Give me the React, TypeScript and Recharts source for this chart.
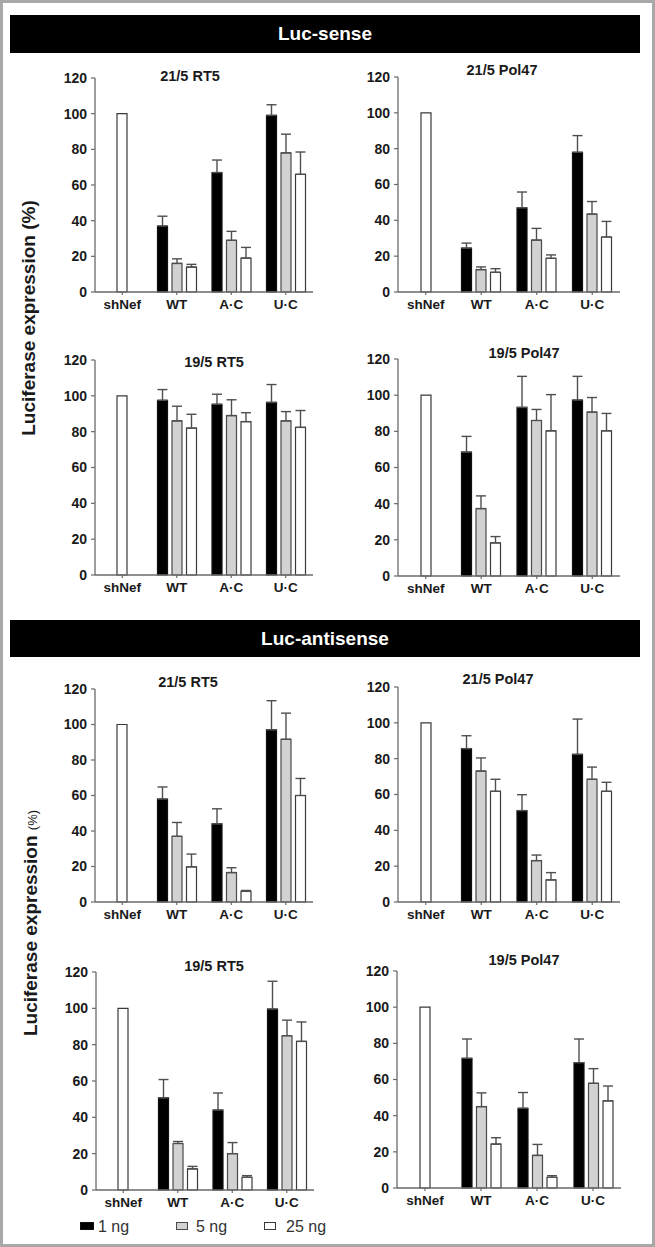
import React from "react";
import { BarChart, Bar, XAxis, YAxis, ErrorBar } from "recharts";

const categories = ["shNef", "WT", "A·C", "U·C"];
const doses = ["1 ng", "5 ng", "25 ng"];
const doseColors = ["#000000", "#d2d2d2", "#ffffff"];
const doseStrokes = ["#111111", "#4a4a4a", "#3a3a3a"];
const yTicks = [0, 20, 40, 60, 80, 100, 120];
const shNefValue = 100;

// rows: WT, A·C, U·C  -  columns: 1 ng, 5 ng, 25 ng
const sense21RT5 = [[37, 16, 14], [67, 29, 19], [99, 78, 66]];
const sense21RT5Err = [[5.5, 2.6, 1.5], [7, 5, 6], [6, 10.5, 12.5]];
const sense21Pol47 = [[24.5, 12.5, 11], [47, 29, 18.8], [78, 43.5, 30.7]];
const sense21Pol47Err = [[2.8, 1.5, 2], [8.8, 6.5, 1.9], [9.3, 7, 8.7]];
const sense19RT5 = [[97.5, 86, 82], [95.3, 89, 85.6], [96.3, 86, 82.4]];
const sense19RT5Err = [[6, 8.2, 7.7], [5.6, 8.8, 5], [10, 5.2, 9.4]];
const sense19Pol47 = [[68.5, 37.3, 18.3], [93.2, 86, 80.3], [97.3, 90.6, 80.3]];
const sense19Pol47Err = [[8.7, 7, 3.5], [17.2, 6.1, 20], [13.1, 8.1, 9.6]];

const anti21RT5 = [[58, 37, 19.8], [44, 16.6, 6], [97, 91.7, 60]];
const anti21RT5Err = [[6.8, 7.8, 7.2], [8.5, 2.7, 0.5], [16.4, 14.7, 9.6]];
const anti21Pol47 = [[85.6, 73.1, 61.8], [51, 23.1, 12.3], [82.4, 68.5, 61.8]];
const anti21Pol47Err = [[7.2, 7.3, 6.7], [8.9, 3.1, 4.1], [19.7, 6.8, 5]];
const anti19RT5 = [[50.7, 25.6, 11.6], [44, 20, 7], [99.6, 84.9, 81.8]];
const anti19RT5Err = [[10.1, 1.1, 1.4], [9.4, 6.1, 0.9], [15.3, 8.6, 10.7]];
const anti19Pol47 = [[71.7, 45, 24.3], [44.1, 18, 5.9], [69.3, 57.9, 48.2]];
const anti19Pol47Err = [[10.7, 7.6, 3.5], [8.7, 6.1, 0.9], [13.1, 8.1, 8.2]];

const FONT = "'Liberation Sans', Arial, Helvetica, sans-serif";

function buildRows(values: number[][], errs: number[][]) {
  return categories.map((cat, i) => {
    if (i === 0) return { cat, ctrl: shNefValue };
    const v = values[i - 1];
    const e = errs[i - 1];
    return {
      cat,
      d0: v[0], d1: v[1], d2: v[2],
      e0: [0, e[0]], e1: [0, e[1]], e2: [0, e[2]],
    };
  });
}

const panels = [
  { title: "21/5 RT5", values: sense21RT5, errs: sense21RT5Err, axisX: 95, topY: 78, plotW: 218, plotH: 214, tx: 190, ty: 76 },
  { title: "21/5 Pol47", values: sense21Pol47, errs: sense21Pol47Err, axisX: 398, topY: 77, plotW: 222, plotH: 215, tx: 502, ty: 70 },
  { title: "19/5 RT5", values: sense19RT5, errs: sense19RT5Err, axisX: 95, topY: 360, plotW: 218, plotH: 215, tx: 214, ty: 362 },
  { title: "19/5 Pol47", values: sense19Pol47, errs: sense19Pol47Err, axisX: 398, topY: 359, plotW: 222, plotH: 217, tx: 524, ty: 353 },
  { title: "21/5 RT5", values: anti21RT5, errs: anti21RT5Err, axisX: 95, topY: 689, plotW: 218, plotH: 213, tx: 188, ty: 682 },
  { title: "21/5 Pol47", values: anti21Pol47, errs: anti21Pol47Err, axisX: 398, topY: 687, plotW: 222, plotH: 215, tx: 498, ty: 679 },
  { title: "19/5 RT5", values: anti19RT5, errs: anti19RT5Err, axisX: 96, topY: 972, plotW: 218, plotH: 218, tx: 214, ty: 966 },
  { title: "19/5 Pol47", values: anti19Pol47, errs: anti19Pol47Err, axisX: 397, topY: 971, plotW: 224, plotH: 217, tx: 524, ty: 960 },
];

const axisColor = "#6a6a6a";
const yTickFont = { fontSize: 14, fontWeight: "bold", fill: "#1a1a1a", fontFamily: FONT };
const xTickFont = { fontSize: 13.5, fontWeight: "bold", fill: "#1a1a1a", fontFamily: FONT };

function Panel(p: any) {
  const rows = buildRows(p.values, p.errs);
  const yW = 45;
  const mTop = 15;
  return (
    <>
      <div
        style={{
          position: "absolute",
          left: p.tx - 70,
          width: 140,
          top: p.ty - 9,
          height: 18,
          lineHeight: "18px",
          textAlign: "center",
          fontFamily: FONT,
          fontWeight: "bold",
          fontSize: 14.5,
          color: "#1a1a1a",
        }}
      >
        {p.title}
      </div>
      <div style={{ position: "absolute", left: p.axisX - yW, top: p.topY - mTop }}>
        <BarChart
          width={yW + p.plotW + 6}
          height={mTop + p.plotH + 30}
          data={rows}
          margin={{ top: mTop, right: 6, left: 0, bottom: 0 }}
          barSize={10}
          barGap={4.5}
        >
          <XAxis
            dataKey="cat"
            height={30}
            interval={0}
            tick={xTickFont}
            tickSize={3}
            tickMargin={4}
            axisLine={{ stroke: axisColor, strokeWidth: 1.3 }}
            tickLine={{ stroke: axisColor, strokeWidth: 1.2 }}
          />
          <XAxis xAxisId="ctrl" dataKey="cat" hide />
          <YAxis
            width={yW}
            domain={[0, 120]}
            ticks={yTicks}
            interval={0}
            tick={yTickFont}
            tickSize={4}
            tickMargin={4}
            axisLine={{ stroke: axisColor, strokeWidth: 1.3 }}
            tickLine={{ stroke: axisColor, strokeWidth: 1.2 }}
          />
          <Bar
            xAxisId="ctrl"
            dataKey="ctrl"
            fill="#ffffff"
            stroke="#3a3a3a"
            strokeWidth={1.2}
            isAnimationActive={false}
          />
          {doses.map((d, i) => (
            <Bar
              key={d}
              name={d}
              dataKey={"d" + i}
              fill={doseColors[i]}
              stroke={doseStrokes[i]}
              strokeWidth={1.2}
              isAnimationActive={false}
            >
              <ErrorBar
                dataKey={"e" + i}
                width={5}
                stroke="#4f4f4f"
                strokeWidth={1.4}
                direction="y"
                isAnimationActive={false}
              />
            </Bar>
          ))}
        </BarChart>
      </div>
    </>
  );
}

function Header({ top, height, text }: { top: number; height: number; text: string }) {
  return (
    <div
      style={{
        position: "absolute",
        left: 10,
        top,
        width: 630,
        height,
        lineHeight: height + "px",
        background: "#000",
        color: "#fff",
        textAlign: "center",
        fontFamily: FONT,
        fontWeight: "bold",
        fontSize: 19,
      }}
    >
      {text}
    </div>
  );
}

function YLabel({ cx, cy, small }: { cx: number; cy: number; small?: boolean }) {
  return (
    <div
      style={{
        position: "absolute",
        left: cx - 150,
        top: cy - 12,
        width: 300,
        height: 24,
        lineHeight: "24px",
        textAlign: "center",
        transform: "rotate(-90deg)",
        fontFamily: FONT,
        fontWeight: "bold",
        fontSize: 19,
        color: "#1a1a1a",
        whiteSpace: "nowrap",
      }}
    >
      {small ? (
        <>
          Luciferase expression <span style={{ fontSize: 13, fontWeight: "normal" }}>(%)</span>
        </>
      ) : (
        "Luciferase expression (%)"
      )}
    </div>
  );
}

const legendRects = [80, 176, 264];
const legendTexts = [98, 196, 286];

export default function App() {
  return (
    <div
      style={{
        position: "absolute",
        left: 0,
        top: 0,
        width: 655,
        height: 1247,
        background: "#fff",
        boxSizing: "border-box",
        border: "3px solid #a8a8a8",
        overflow: "hidden",
      }}
    >
      <div style={{ position: "absolute", left: -3, top: -3, width: 655, height: 1247 }}>
        <Header top={15} height={38} text="Luc-sense" />
        <Header top={620} height={37} text="Luc-antisense" />
        <YLabel cx={29} cy={318} />
        <YLabel cx={31} cy={923} small />
        {panels.map((p, i) => (
          <Panel key={i} {...p} />
        ))}
        {doses.map((d, i) => (
          <React.Fragment key={d}>
            <div
              style={{
                position: "absolute",
                left: legendRects[i],
                top: 1222,
                width: i === 0 ? 14 : 12,
                height: 8,
                boxSizing: "border-box",
                background: doseColors[i],
                border: "1px solid " + doseStrokes[i],
              }}
            />
            <div
              style={{
                position: "absolute",
                left: legendTexts[i],
                top: 1217,
                height: 20,
                lineHeight: "20px",
                fontFamily: FONT,
                fontSize: 16,
                color: "#333",
                whiteSpace: "nowrap",
              }}
            >
              {d}
            </div>
          </React.Fragment>
        ))}
      </div>
    </div>
  );
}
